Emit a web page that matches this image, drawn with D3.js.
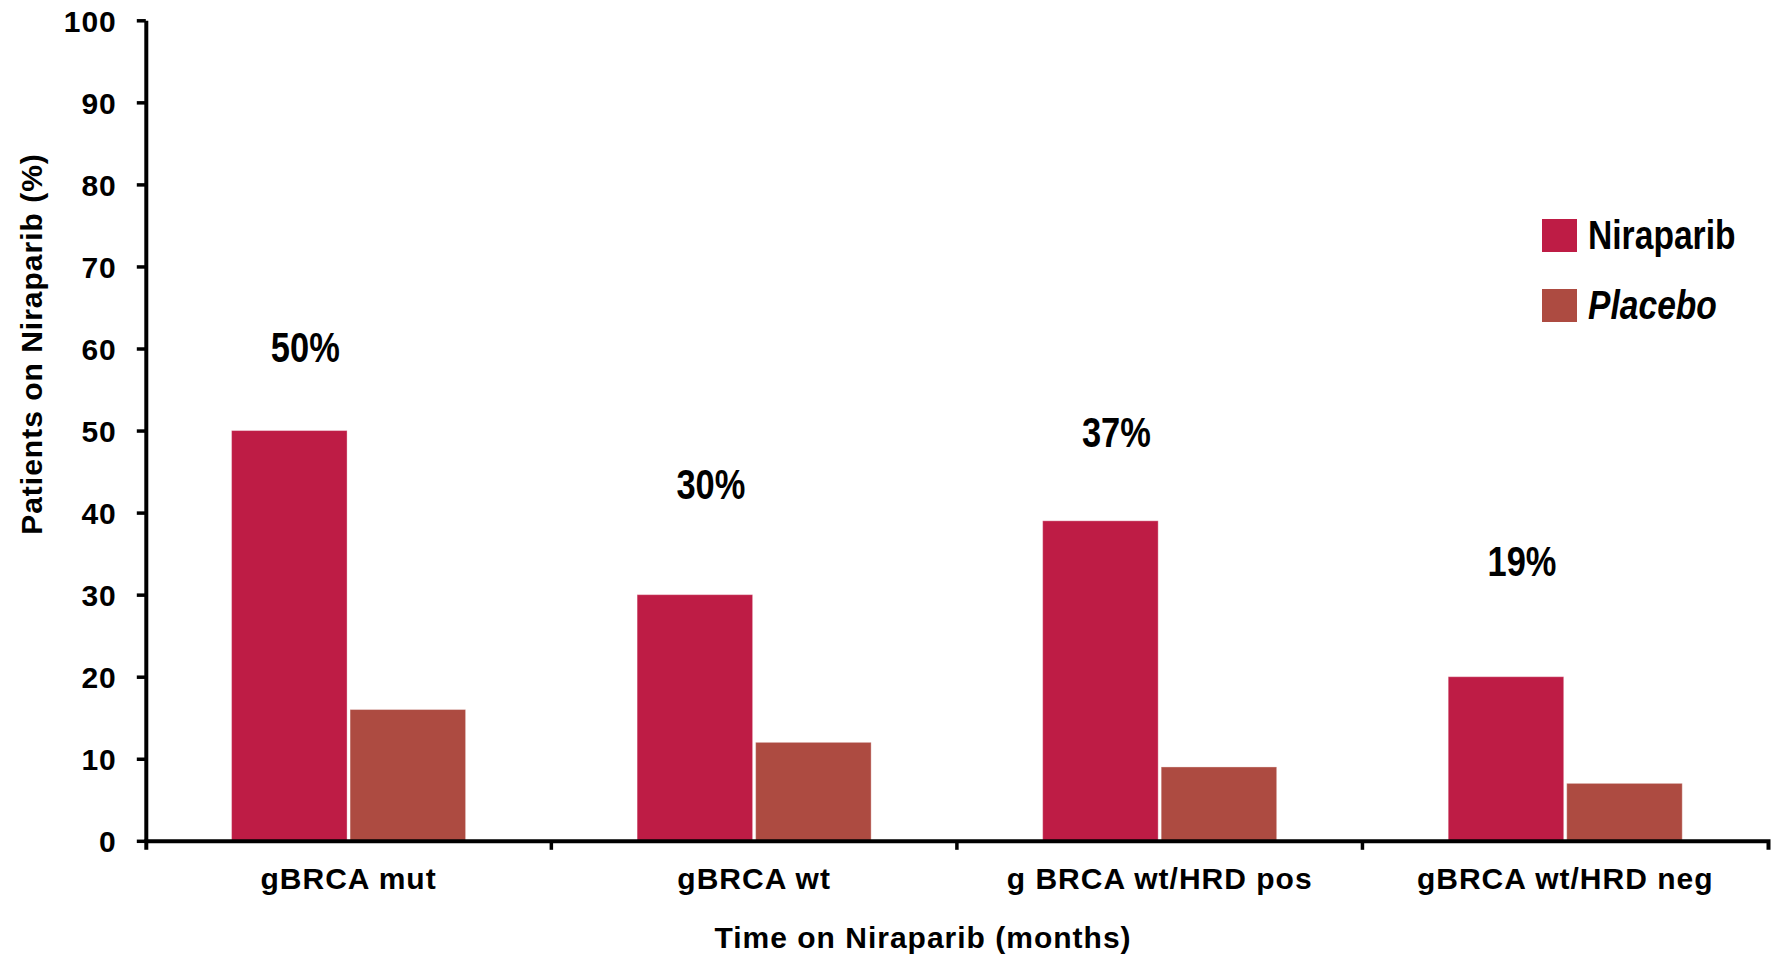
<!DOCTYPE html>
<html>
<head>
<meta charset="utf-8">
<script src="https://cdn.jsdelivr.net/npm/d3@7"></script>
<style>
  html, body { margin: 0; padding: 0; background: #ffffff; }
  svg { display: block; }
  .main { font-family: "Liberation Sans", Arial, Helvetica, sans-serif; font-weight: bold; fill: #000; }
</style>
</head>
<body>
<svg id="chart" width="1772" height="957"></svg>
<script>
// Subgroups along the x axis
const categories = ["gBRCA mut", "gBRCA wt", "g BRCA wt/HRD pos", "gBRCA wt/HRD neg"];
const seriesNames = ["Niraparib", "Placebo"];
// Patients on niraparib (%) per subgroup
const niraparibValues = [50, 30, 39, 20];
const placeboValues = [16, 12, 9, 7];
// Callout text above each subgroup and the level (in %) it sits at
const calloutTexts = ["50%", "30%", "37%", "19%"];
const calloutLevels = [58.4, 41.7, 48, 32.3];
const yTickValues = [0, 10, 20, 30, 40, 50, 60, 70, 80, 90, 100];

const colors = { Niraparib: "#be1c45", Placebo: "#ad4b41" };
// Horizontal squeeze giving a condensed bold face
const narrow = 0.82;

const svg = d3.select("#chart");
const plot = { left: 145.8, right: 1768, top: 20.3, bottom: 840.8 };

const x = d3.scaleBand().domain(categories).range([plot.left, plot.right]).padding(0);
const xSub = d3.scaleBand().domain(seriesNames).range([0, x.bandwidth()])
  .paddingInner(0.0253).paddingOuter(0.7236);
const y = d3.scaleLinear().domain([0, 100]).range([plot.bottom, plot.top]);

const rows = categories.map((c, i) => ({
  category: c,
  values: [
    { series: "Niraparib", value: niraparibValues[i] },
    { series: "Placebo", value: placeboValues[i] }
  ]
}));

// Bars
const groups = svg.append("g").selectAll("g").data(rows).join("g")
  .attr("transform", d => `translate(${x(d.category)},0)`);
groups.selectAll("rect").data(d => d.values).join("rect")
  .attr("x", d => xSub(d.series))
  .attr("y", d => y(d.value))
  .attr("width", xSub.bandwidth())
  .attr("height", d => y(0) - y(d.value))
  .attr("fill", d => colors[d.series])
  .attr("stroke", "rgba(255,255,255,0.35)")
  .attr("stroke-width", 1);

// Y axis
const yAxis = svg.append("g").attr("transform", `translate(${plot.left},0)`)
  .call(d3.axisLeft(y).tickValues(yTickValues).tickSizeInner(9).tickSizeOuter(0).tickPadding(20));
yAxis.select(".domain").attr("stroke", "#000").attr("stroke-width", 4);
yAxis.selectAll(".tick line").attr("stroke", "#000").attr("stroke-width", 3.5);
yAxis.selectAll(".tick text").attr("class", "main")
  .style("font-size", "30px").style("letter-spacing", "1px").attr("dy", "0.36em");

// X axis with labels under each subgroup
const xAxis = svg.append("g").attr("transform", `translate(0,${plot.bottom})`)
  .call(d3.axisBottom(x).tickSizeInner(0).tickSizeOuter(9).tickPadding(27));
xAxis.select(".domain").attr("stroke", "#000").attr("stroke-width", 4);
xAxis.selectAll(".tick text").attr("class", "main")
  .style("font-size", "30px").style("letter-spacing", "1px");
// Boundary ticks between subgroups
xAxis.selectAll(".sep").data(categories.slice(1)).join("line")
  .attr("class", "sep")
  .attr("x1", d => x(d)).attr("x2", d => x(d))
  .attr("y1", 0).attr("y2", 9)
  .attr("stroke", "#000").attr("stroke-width", 3.5);

// Callouts
svg.append("g").selectAll("text").data(categories).join("text")
  .attr("class", "main")
  .attr("transform", (d, i) =>
    `translate(${x(d) + xSub("Niraparib") + xSub.bandwidth() / 2 + 16},${y(calloutLevels[i])}) scale(${narrow},1)`)
  .attr("text-anchor", "middle")
  .style("font-size", "42px")
  .text((d, i) => calloutTexts[i]);

// Axis titles
svg.append("text").attr("class", "main")
  .attr("transform", "translate(41.7,344) rotate(-90)")
  .attr("text-anchor", "middle")
  .style("font-size", "30px").style("letter-spacing", "1px")
  .text("Patients on Niraparib (%)");

svg.append("text").attr("class", "main")
  .attr("x", 923).attr("y", 948)
  .attr("text-anchor", "middle")
  .style("font-size", "30px").style("letter-spacing", "1px")
  .text("Time on Niraparib (months)");

// Legend
const legend = svg.append("g").attr("transform", "translate(1542,219)");
const items = legend.selectAll("g").data(seriesNames).join("g")
  .attr("transform", (d, i) => `translate(0,${i * 70})`);
items.append("rect").attr("width", 35).attr("height", 33).attr("fill", d => colors[d]);
items.append("text").attr("class", "main")
  .attr("transform", `translate(46,29.5) scale(${narrow},1)`)
  .style("font-size", "41px")
  .style("font-style", d => d === "Placebo" ? "italic" : "normal")
  .text(d => d);
</script>
</body>
</html>
